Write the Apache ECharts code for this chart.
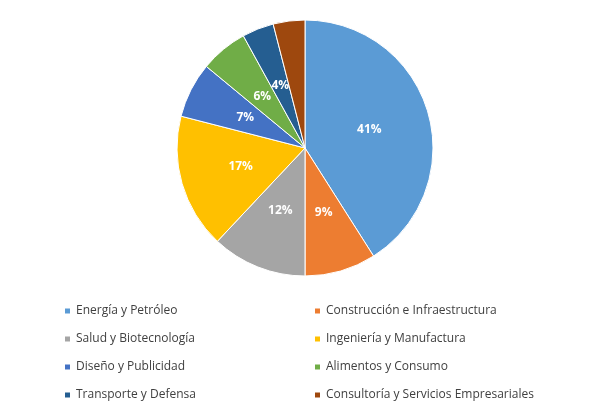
<!DOCTYPE html>
<html><head><meta charset="utf-8">
<script src="https://cdn.jsdelivr.net/npm/echarts@6/dist/echarts.min.js"></script>
<style>body{margin:0;background:#fff}#c{width:599px;height:413px}</style>
</head><body><div id="c"></div>
<script>
const categories = ['Energía y Petróleo', 'Construcción e Infraestructura', 'Salud y Biotecnología', 'Ingeniería y Manufactura',
  'Diseño y Publicidad', 'Alimentos y Consumo', 'Transporte y Defensa', 'Consultoría y Servicios Empresariales'];
const values = [41, 9, 12, 17, 7, 6, 4, 4];
const colors = ['#5B9BD5', '#ED7D31', '#A5A5A5', '#FFC000', '#4472C4', '#70AD47', '#255E91', '#9E480E'];

const leftNames = categories.filter((_, i) => i % 2 === 0);
const rightNames = categories.filter((_, i) => i % 2 === 1);
const legendBase = {orient: 'vertical', itemWidth: 7, itemHeight: 7, itemGap: 16, icon: 'rect', top: 300,
  textStyle: {fontFamily: 'Open Sans', fontSize: 12, color: '#404040'}};

const chart = echarts.init(document.getElementById('c'));
chart.setOption({
  color: colors,
  legend: [
    Object.assign({}, legendBase, {left: 58, data: leftNames}),
    Object.assign({}, legendBase, {left: 308, data: rightNames})
  ],
  series: [{
    type: 'pie', center: [305, 148], radius: 128, startAngle: 90, clockwise: true,
    animation: false,
    itemStyle: {borderColor: '#fff', borderWidth: 1},
    label: {position: 'inside', formatter: '{c}%', color: '#fff', fontWeight: 'bold', fontSize: 12, fontFamily: 'Open Sans'},
    labelLine: {show: false},
    data: categories.map((n, i) => ({name: n, value: values[i]}))
  }]
});
</script></body></html>
